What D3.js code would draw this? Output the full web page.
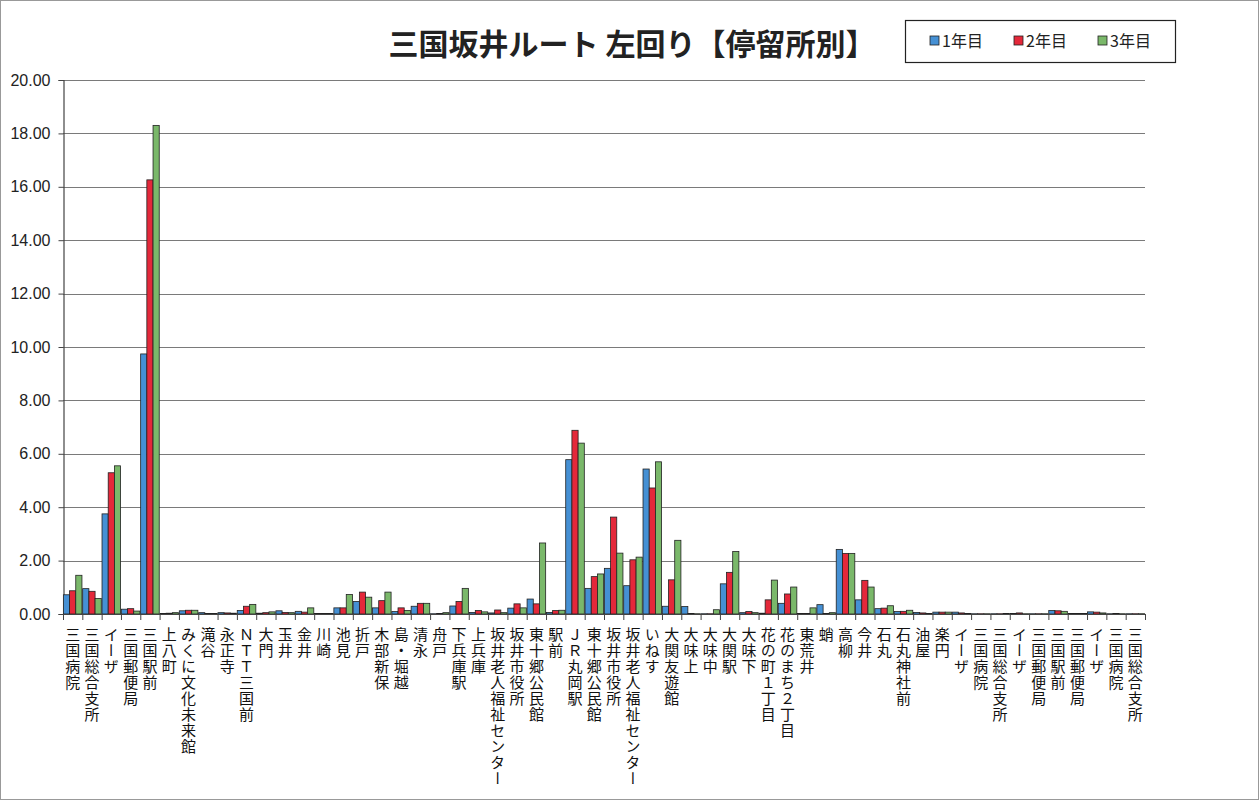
<!DOCTYPE html>
<html><head><meta charset="utf-8">
<script src="https://cdn.jsdelivr.net/npm/d3@7"></script>
<style>
html,body{margin:0;padding:0;background:#fff;}
svg{display:block;font-family:"Noto Sans CJK JP","Noto Sans",sans-serif;}
</style></head>
<body><svg id="c" width="1260" height="801"></svg>
<script>
const categories = ["三国病院","三国総合支所","イーザ","三国郵便局","三国駅前","上八町","みくに文化未来館","滝谷","永正寺","ＮＴＴ三国前","大門","玉井","金井","川崎","池見","折戸","木部新保","島・堀越","清永","舟戸","下兵庫駅","上兵庫","坂井老人福祉センター","坂井市役所","東十郷公民館","駅前","ＪＲ丸岡駅","東十郷公民館","坂井市役所","坂井老人福祉センター","いねす","大関友遊館","大味上","大味中","大関駅","大味下","花の町１丁目","花のまち２丁目","東荒井","蛸","高柳","今井","石丸","石丸神社前","油屋","楽円","イーザ","三国病院","三国総合支所","イーザ","三国郵便局","三国駅前","三国郵便局","イーザ","三国病院","三国総合支所"];
const seriesNames = ["1年目","2年目","3年目"];
const year1 = [0.72,0.95,3.75,0.18,9.74,0.02,0.12,0.05,0.05,0.13,0.03,0.12,0.10,0.02,0.23,0.47,0.23,0.09,0.29,0.01,0.30,0.06,0.04,0.22,0.56,0.06,5.78,0.96,1.71,1.06,5.43,0.29,0.28,0.01,1.13,0.05,0.03,0.40,0.02,0.35,2.42,0.53,0.20,0.09,0.06,0.07,0.07,0.01,0.01,0.02,0.01,0.13,0.02,0.08,0.01,0.01];
const year2 = [0.87,0.85,5.29,0.20,16.26,0.03,0.14,0.02,0.04,0.29,0.05,0.06,0.07,0.02,0.23,0.82,0.50,0.23,0.40,0.02,0.47,0.13,0.15,0.38,0.38,0.13,6.88,1.40,3.63,2.03,4.72,1.28,0.02,0.01,1.56,0.09,0.53,0.75,0.02,0.02,2.27,1.26,0.22,0.10,0.04,0.07,0.04,0.01,0.01,0.04,0.01,0.12,0.02,0.07,0.02,0.01];
const year3 = [1.45,0.58,5.55,0.11,18.30,0.05,0.14,0.02,0.03,0.36,0.08,0.05,0.23,0.02,0.73,0.63,0.82,0.13,0.40,0.05,0.96,0.08,0.05,0.23,2.66,0.14,6.40,1.50,2.28,2.13,5.70,2.76,0.01,0.16,2.34,0.05,1.27,1.01,0.23,0.05,2.27,1.01,0.31,0.14,0.02,0.07,0.02,0.01,0.02,0.01,0.01,0.10,0.02,0.04,0.01,0.01];
const yTicks = [0,2,4,6,8,10,12,14,16,18,20];
const colors = ["#4590d4","#e4283a","#7ab86a"];
const title = "三国坂井ルート 左回り【停留所別】";

const svg = d3.select("#c");
svg.append("rect").attr("x",0.5).attr("y",0.5).attr("width",1258).attr("height",799)
  .attr("fill","#fff").attr("stroke","#999");

const L=63, R=1145, T=80, B=614;
const x = d3.scaleBand().domain(d3.range(categories.length)).range([L,R]).paddingInner(0).paddingOuter(0);
const x1 = d3.scaleBand().domain([0,1,2]).range([0,x.bandwidth()]).paddingInner(0).paddingOuter(0.06);
const y = d3.scaleLinear().domain([0,20]).range([B,T]);

// gridlines
svg.append("g").selectAll("line").data(yTicks.filter(d=>d>0)).join("line")
  .attr("x1",L).attr("x2",R).attr("y1",d=>Math.round(y(d))+0.5).attr("y2",d=>Math.round(y(d))+0.5)
  .attr("stroke","#7a7a7a").attr("stroke-width",1.2);

// y axis
const yAxis = d3.axisLeft(y).tickValues(yTicks).tickFormat(d3.format(".2f")).tickSize(5).tickPadding(8);
const ya = svg.append("g").attr("transform",`translate(${L+0.5},0)`).call(yAxis);
ya.select(".domain").attr("stroke","#444").attr("stroke-width",1.2);
ya.selectAll(".tick line").attr("stroke","#444");
ya.selectAll(".tick text").attr("font-family","Liberation Sans, Arial, sans-serif").attr("font-size",16).attr("fill","#222");

// bars
const series = [year1,year2,year3];
const gBars = svg.append("g");
series.forEach((vals,si)=>{
  gBars.append("g").selectAll("rect").data(vals).join("rect")
    .attr("x",(d,i)=>x(i)+x1(si))
    .attr("width",x1.bandwidth())
    .attr("y",d=>y(d))
    .attr("height",d=>B-y(d))
    .attr("fill",colors[si])
    .attr("stroke","#222").attr("stroke-width",0.8);
});

// x axis
svg.append("line").attr("x1",L).attr("x2",R).attr("y1",B+0.5).attr("y2",B+0.5).attr("stroke","#444").attr("stroke-width",1.2);
svg.append("g").selectAll("line").data(d3.range(categories.length+1)).join("line")
  .attr("x1",i=>(i<categories.length?x(i):R)+0.5).attr("x2",i=>(i<categories.length?x(i):R)+0.5)
  .attr("y1",B).attr("y2",B+6).attr("stroke","#444");

// x labels vertical
svg.append("g").selectAll("text").data(categories).join("text")
  .attr("x",(d,i)=>x(i)+x.bandwidth()/2)
  .attr("y",627)
  .attr("font-size",15)
  .attr("fill","#111")
  .style("writing-mode","vertical-rl")
  .style("text-orientation","upright")
  .style("letter-spacing","1px")
  .text(d=>d);

// title
svg.append("text").attr("x",632).attr("y",55).attr("text-anchor","middle")
  .attr("font-size",30).attr("font-weight","bold").attr("fill","#222").text(title);

// legend
const lg = svg.append("g");
lg.append("rect").attr("x",905.5).attr("y",20.5).attr("width",270).attr("height",42)
  .attr("fill","#fff").attr("stroke","#222").attr("stroke-width",1.2);
const lx = [930,1014,1098];
seriesNames.forEach((n,i)=>{
  lg.append("rect").attr("x",lx[i]).attr("y",36).attr("width",9).attr("height",9)
    .attr("fill",colors[i]).attr("stroke","#222").attr("stroke-width",0.8);
  lg.append("text").attr("x",lx[i]+12).attr("y",46.5).attr("font-size",16).attr("fill","#222").text(n);
});
</script></body></html>
